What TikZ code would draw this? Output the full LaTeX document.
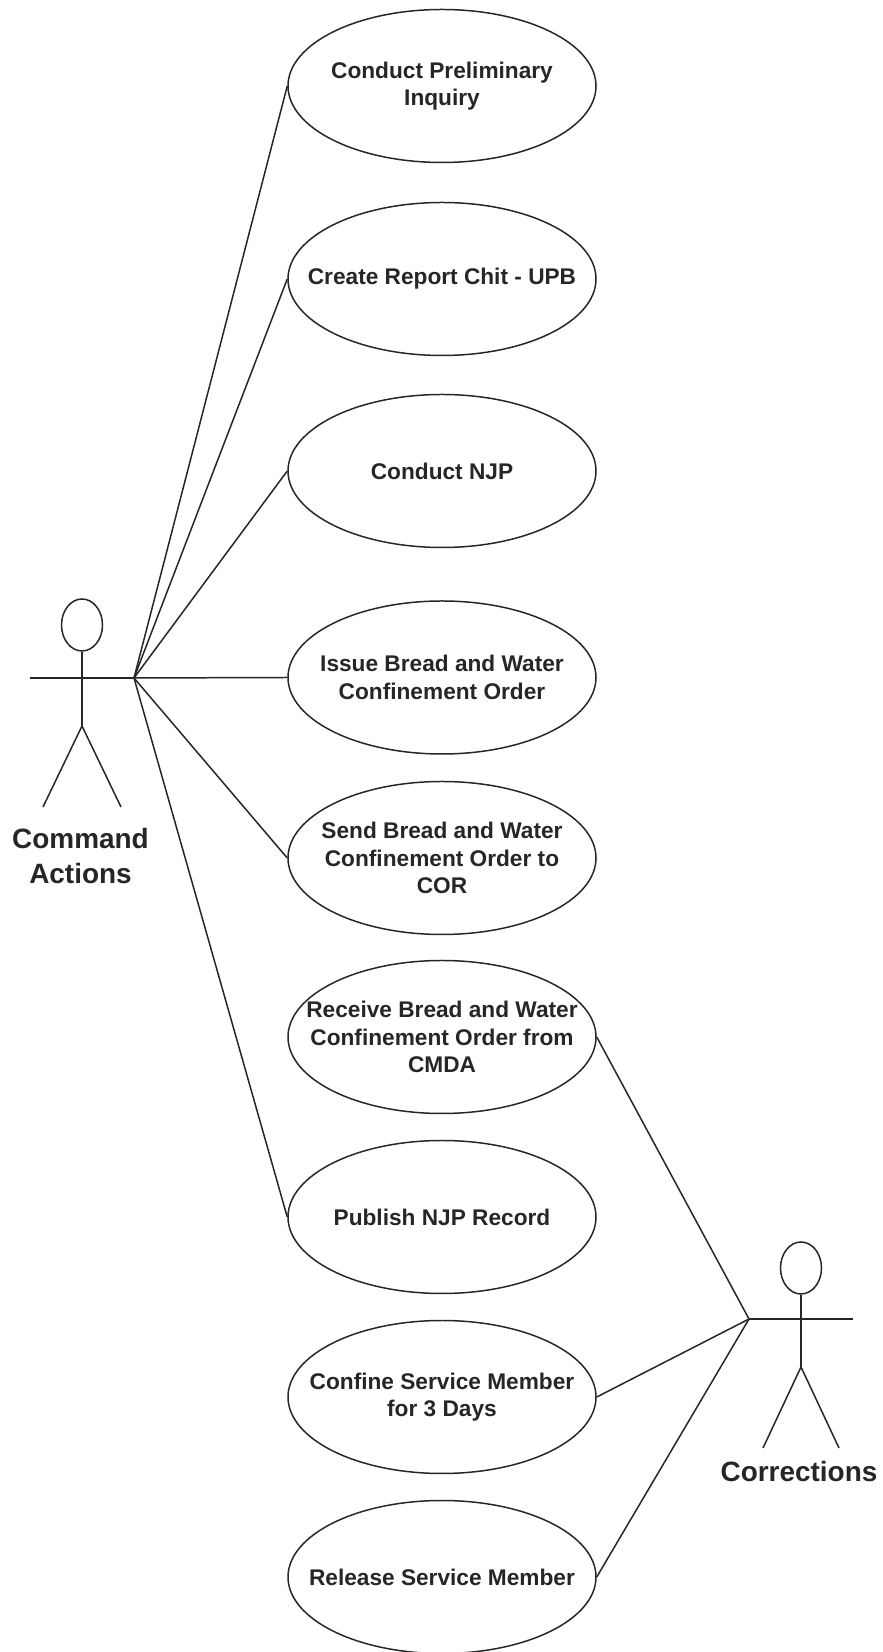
\documentclass[tikz,border=0pt]{standalone}
\usepackage{fontspec}
\setmainfont{Liberation Sans}
\usetikzlibrary{shapes.geometric}
\tikzset{
    usecase/.style={draw=black!85, line width=0.85pt, ellipse, inner sep=0pt, minimum width=6.16cm, minimum height=3.06cm,
        label={[font=\fontsize{12.9}{15.6}\selectfont\bfseries, align=center, text=black!85]center:#1}},
    actorhead/.style={draw=black!85, line width=0.85pt, ellipse, inner sep=0pt, minimum width=0.82cm, minimum height=1.04cm},
    actorname/.style={font=\fontsize{15.9}{19.5}\selectfont\bfseries, align=center, text=black!85},
    link/.style={draw=black!85, line width=0.85pt}
}
\begin{document}
\begin{tikzpicture}
    \useasboundingbox (0,0) rectangle (17.66,33.04);
    % === Casi d'uso ===
    \node[usecase={Conduct Preliminary\\Inquiry}] (inquiry) at (8.84, 31.32) {};
    \node[usecase={Create Report Chit - UPB}] (chit) at (8.84, 27.46) {};
    \node[usecase={Conduct NJP}] (njp) at (8.84, 23.62) {};
    \node[usecase={Issue Bread and Water\\Confinement Order}] (issue) at (8.84, 19.49) {};
    \node[usecase={Send Bread and Water\\Confinement Order to\\COR}] (send) at (8.84, 15.88) {};
    \node[usecase={Receive Bread and Water\\Confinement Order from\\CMDA}] (receive) at (8.84, 12.30) {};
    \node[usecase={Publish NJP Record}] (publish) at (8.84, 8.70) {};
    \node[usecase={Confine Service Member\\for 3 Days}] (confine) at (8.84, 5.10) {};
    \node[usecase={Release Service Member}] (release) at (8.84, 1.50) {};
    % === Attore: Command Actions ===
    \node[actorhead] (cmdhead) at (1.64, 20.54) {};
    \coordinate (cmdhip) at (1.64, 18.52);
    \coordinate (cmdarm) at (0.60, 19.48);
    \coordinate (cmdhand) at (2.68, 19.48);
    \coordinate (cmdleft) at (0.86, 16.90);
    \coordinate (cmdright) at (2.42, 16.90);
    \draw[link] (cmdhead.south) -- (cmdhip);
    \draw[link] (cmdarm) -- (cmdhand);
    \draw[link] (cmdleft) -- (cmdhip) -- (cmdright);
    \node[actorname] (cmdname) at (1.61, 15.92) {Command\\Actions};
    % === Attore: Corrections ===
    \node[actorhead] (corhead) at (16.02, 7.68) {};
    \coordinate (corhip) at (16.02, 5.70);
    \coordinate (corhand) at (14.98, 6.66);
    \coordinate (corarm) at (17.06, 6.66);
    \coordinate (corleft) at (15.26, 4.08);
    \coordinate (corright) at (16.78, 4.08);
    \draw[link] (corhead.south) -- (corhip);
    \draw[link] (corhand) -- (corarm);
    \draw[link] (corleft) -- (corhip) -- (corright);
    \node[actorname] (corname) at (15.98, 3.60) {Corrections};
    % Collegamenti
    \draw[link] (cmdhand) -- (inquiry.west);
    \draw[link] (cmdhand) -- (chit.west);
    \draw[link] (cmdhand) -- (njp.west);
    \draw[link] (cmdhand) -- (issue.west);
    \draw[link] (cmdhand) -- (send.west);
    \draw[link] (cmdhand) -- (publish.west);
    \draw[link] (corhand) -- (receive.east);
    \draw[link] (corhand) -- (confine.east);
    \draw[link] (corhand) -- (release.east);
\end{tikzpicture}
\end{document}
